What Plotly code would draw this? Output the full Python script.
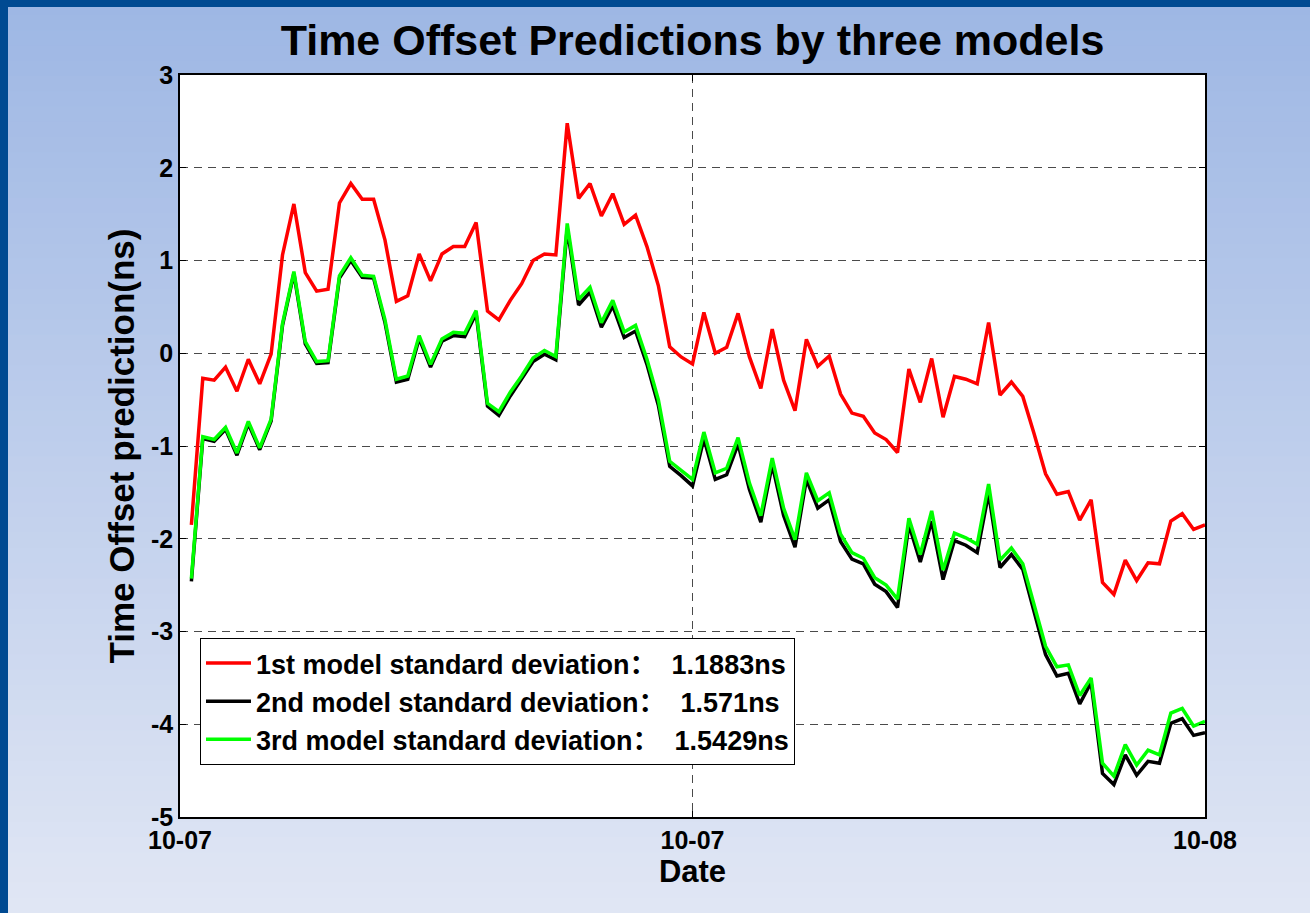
import plotly.graph_objects as go
import pandas as pd

# ---------------- data ----------------
times = pd.date_range("2013-10-07 00:16", periods=90, freq="16min")

model1 = [-1.85, -0.27, -0.29, -0.15, -0.41, -0.065, -0.33, -0.01, 1.06, 1.61,
          0.87, 0.67, 0.69, 1.62, 1.83, 1.66, 1.66, 1.22, 0.56, 0.62,
          1.07, 0.78, 1.07, 1.15, 1.15, 1.41, 0.455, 0.36, 0.57, 0.75,
          1.0, 1.07, 1.06, 2.48, 1.67, 1.83, 1.48, 1.72, 1.39, 1.49,
          1.15, 0.73, 0.07, -0.04, -0.115, 0.44, 0.0, 0.065, 0.43, -0.04,
          -0.38, 0.26, -0.29, -0.62, 0.15, -0.14, -0.03, -0.44, -0.645, -0.68,
          -0.86, -0.93, -1.07, -0.17, -0.53, -0.057, -0.69, -0.25, -0.28, -0.33,
          0.33, -0.45, -0.31, -0.465, -0.87, -1.30, -1.52, -1.49, -1.80, -1.58,
          -2.47, -2.60, -2.23, -2.45, -2.26, -2.27, -1.81, -1.73, -1.90, -1.85]

model2 = [-2.46, -0.92, -0.95, -0.82, -1.10, -0.76, -1.04, -0.73, 0.30, 0.86,
          0.10, -0.11, -0.10, 0.81, 1.00, 0.82, 0.81, 0.33, -0.31, -0.28,
          0.16, -0.15, 0.13, 0.19, 0.18, 0.43, -0.57, -0.67, -0.46, -0.28,
          -0.09, -0.01, -0.07, 1.35, 0.52, 0.66, 0.28, 0.51, 0.17, 0.24,
          -0.12, -0.56, -1.22, -1.32, -1.43, -0.92, -1.36, -1.31, -0.98, -1.47,
          -1.82, -1.20, -1.75, -2.09, -1.36, -1.67, -1.58, -2.03, -2.22, -2.27,
          -2.49, -2.57, -2.74, -1.85, -2.25, -1.81, -2.44, -2.02, -2.07, -2.15,
          -1.51, -2.31, -2.17, -2.33, -2.78, -3.25, -3.48, -3.45, -3.78, -3.55,
          -4.53, -4.65, -4.33, -4.55, -4.40, -4.42, -3.99, -3.94, -4.12, -4.09]

model3 = [-2.43, -0.90, -0.93, -0.80, -1.075, -0.735, -1.02, -0.71, 0.32, 0.88,
          0.125, -0.09, -0.08, 0.835, 1.03, 0.84, 0.83, 0.36, -0.28, -0.245,
          0.19, -0.12, 0.155, 0.225, 0.215, 0.46, -0.54, -0.63, -0.42, -0.245,
          -0.05, 0.03, -0.035, 1.40, 0.58, 0.71, 0.33, 0.57, 0.23, 0.30,
          -0.065, -0.50, -1.165, -1.265, -1.36, -0.85, -1.29, -1.24, -0.91, -1.40,
          -1.75, -1.13, -1.67, -2.01, -1.29, -1.59, -1.505, -1.95, -2.15, -2.21,
          -2.42, -2.50, -2.65, -1.78, -2.17, -1.70, -2.34, -1.94, -1.99, -2.06,
          -1.41, -2.23, -2.10, -2.27, -2.70, -3.16, -3.38, -3.36, -3.69, -3.50,
          -4.42, -4.56, -4.22, -4.44, -4.28, -4.33, -3.88, -3.83, -4.02, -3.97]

series_names = ["1st model standard deviation\uff1a\u00a0 1.1883ns",
                "2nd model standard deviation\uff1a\u00a0 1.571ns",
                "3rd model standard deviation\uff1a\u00a0 1.5429ns"]
series_colors = ["#ff0000", "#000000", "#00ff00"]

x_tick_vals = ["2013-10-07 00:00", "2013-10-07 12:00", "2013-10-08 00:00"]
x_tick_text = ["10-07", "10-07", "10-08"]
y_tick_vals = [-5, -4, -3, -2, -1, 0, 1, 2, 3]
y_tick_text = ["-5", "-4", "-3", "-2", "-1", "0", "1", "2", "3"]

# ---------------- layout geometry ----------------
W, H = 1310, 913
ML, MR, MT, MB = 180, 105, 75, 96
PW, PH = W - ML - MR, H - MT - MB
FONT = "Liberation Sans, Arial, Noto Sans CJK SC, sans-serif"

fig = go.Figure()
for vals, name, col in zip([model1, model2, model3], series_names, series_colors):
    fig.add_trace(go.Scatter(x=times, y=vals, mode="lines", name=name,
                             line=dict(color=col, width=3.5)))

# background gradient bands (paper coordinates extended to whole figure)
shapes = []
x0p, x1p = -ML / PW, 1 + MR / PW
nb = 60
top = (158, 183, 228)
bot = (224, 230, 244)
for i in range(nb):
    t = i / (nb - 1)
    c = tuple(int(round(top[k] + (bot[k] - top[k]) * t)) for k in range(3))
    ytop_px = i * H / nb
    ybot_px = (i + 1) * H / nb + 1
    shapes.append(dict(type="rect", xref="paper", yref="paper", layer="below",
                       x0=x0p, x1=x1p,
                       y0=1 + (MT - ybot_px) / PH, y1=1 + (MT - ytop_px) / PH,
                       fillcolor="rgb(%d,%d,%d)" % c, line=dict(width=0)))
# dark frame (top and left)
shapes.append(dict(type="rect", xref="paper", yref="paper", layer="below",
                   x0=x0p, x1=x1p, y0=1 + (MT - 7) / PH, y1=1 + MT / PH,
                   fillcolor="#004a92", line=dict(width=0)))
shapes.append(dict(type="rect", xref="paper", yref="paper", layer="below",
                   x0=x0p, x1=x0p + 8 / PW, y0=-MB / PH, y1=1 + MT / PH,
                   fillcolor="#004a92", line=dict(width=0)))
# white plotting area
shapes.append(dict(type="rect", xref="paper", yref="paper", layer="below",
                   x0=0, x1=1, y0=0, y1=1, fillcolor="white", line=dict(width=0)))

fig.update_layout(
    width=W, height=H, autosize=False,
    margin=dict(l=ML, r=MR, t=MT, b=MB, pad=0),
    paper_bgcolor="rgb(200,212,238)", plot_bgcolor="white",
    font=dict(family=FONT, color="black"),
    shapes=shapes,
    title=dict(text="<b>Time Offset Predictions by three models</b>",
               x=(ML + PW / 2) / W, xanchor="center",
               y=1 - 40 / H, yanchor="middle",
               font=dict(size=43, family=FONT, color="black")),
    showlegend=True,
    legend=dict(x=(200 - ML) / PW, y=(H - MB - 638) / PH, xanchor="left", yanchor="top",
                bgcolor="white", bordercolor="black", borderwidth=1,
                font=dict(size=27, family=FONT, color="black", weight="bold"),
                itemwidth=45),
)

fig.update_xaxes(
    range=["2013-10-07 00:00", "2013-10-08 00:00"],
    tickvals=x_tick_vals, ticktext=x_tick_text,
    tickfont=dict(size=25, family=FONT, color="black", weight="bold"),
    ticks="inside", ticklen=6, tickcolor="black", tickwidth=1,
    showline=True, linecolor="black", linewidth=1.5, mirror="ticks",
    showgrid=True, gridcolor="#4a4a4a", gridwidth=1, griddash="8px,6px",
    zeroline=False,
    title=dict(text="<b>Date</b>", font=dict(size=31, family=FONT, color="black"),
               standoff=4),
)
fig.update_yaxes(
    range=[-5, 3], tickvals=y_tick_vals, ticktext=y_tick_text,
    tickfont=dict(size=25, family=FONT, color="black", weight="bold"),
    ticks="inside", ticklen=6, tickcolor="black", tickwidth=1,
    showline=True, linecolor="black", linewidth=1.5, mirror="ticks",
    showgrid=True, gridcolor="#4a4a4a", gridwidth=1, griddash="8px,6px",
    zeroline=False,
    title=dict(text="<b>Time Offset prediction(ns)</b>",
               font=dict(size=35, family=FONT, color="black"), standoff=6),
)

fig.write_html("out.html", config={"displayModeBar": False},
               post_script="document.body.style.margin='0';document.body.style.overflow='hidden';")
